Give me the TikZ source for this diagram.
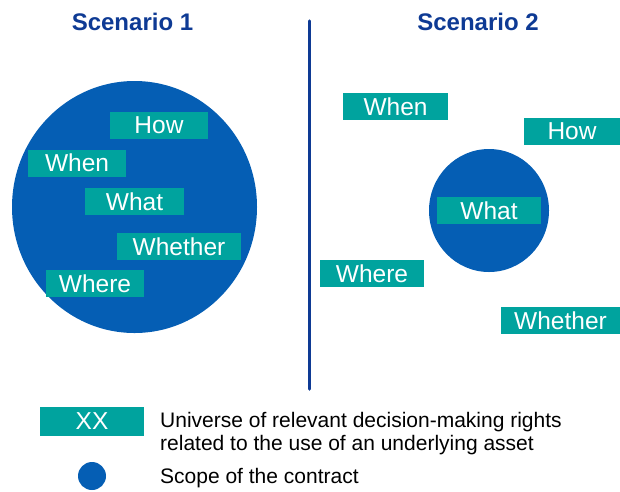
\documentclass[tikz,border=0pt]{standalone}
\usepackage{fontspec}
\setmainfont{Liberation Sans}

\definecolor{scopeblue}{RGB}{5,94,180}
\definecolor{rightteal}{RGB}{0,163,158}
\definecolor{darkblue}{RGB}{14,58,148}

\tikzset{
  right/.style={fill=rightteal,text=white,inner sep=0pt,minimum height=27pt,
    font=\fontsize{24.5}{28}\selectfont},
  title/.style={text=darkblue,anchor=base,font=\fontsize{24}{28}\selectfont\bfseries},
}

\begin{document}
\begin{tikzpicture}[x=1pt,y=-1pt]
   \useasboundingbox (0,0) rectangle (620,491);

   \node[title] (t1) at (132.5,30.5) {Scenario 1};
   \node[title] (t2) at (478,30.5) {Scenario 2};

   \coordinate (top) at (309.5,21);
   \coordinate (bot) at (309.5,389);
   \draw[darkblue,line width=3.5pt,line cap=round] (top) -- (bot);

   % scenario 1
   \fill[scopeblue] (134.5,207) ellipse [x radius=122.5,y radius=126];
   \node[right,minimum width=98pt] (how1) at (159,125.5) {How};
   \node[right,minimum width=98pt] (when1) at (77,163) {When};
   \node[right,minimum width=99pt] (what1) at (134.5,201.5) {What};
   \node[right,minimum width=124pt] (whether1) at (179,246.5) {Whether};
   \node[right,minimum width=98pt] (where1) at (95,283.5) {Where};

   % scenario 2
   \fill[scopeblue] (489,210.5) ellipse [x radius=60,y radius=61.5];
   \node[right,minimum width=105pt] (when2) at (395.5,106.5) {When};
   \node[right,minimum width=96pt] (how2) at (572,131.5) {How};
   \node[right,minimum width=104pt] (what2) at (489,210.5) {What};
   \node[right,minimum width=104pt] (where2) at (372,273.5) {Where};
   \node[right,minimum width=119pt] (whether2) at (560.5,320.5) {Whether};

   % legend
   \node[right,minimum width=104pt,minimum height=29pt] (xx) at (92,421.5) {XX};
   \fill[scopeblue] (92,476) circle (14);
   \node[anchor=base west,inner sep=0pt,align=left,font=\fontsize{21}{23}\selectfont]
      (universe) at (160,450) {Universe of relevant decision-making rights\\related to the use of an underlying asset};
   \node[anchor=base west,inner sep=0pt,font=\fontsize{21}{23}\selectfont]
      (scope) at (160,483) {Scope of the contract};
\end{tikzpicture}
\end{document}
